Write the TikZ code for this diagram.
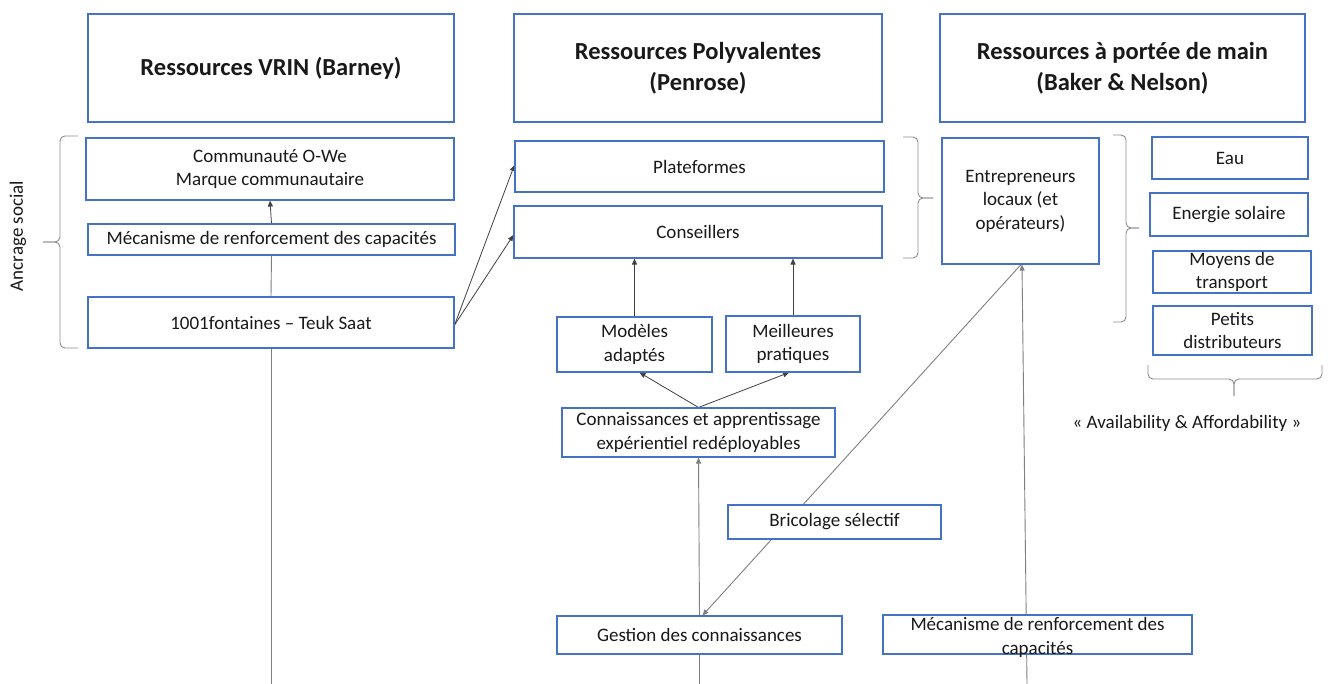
\documentclass[tikz,border=0pt]{standalone}
\usepackage{fontspec}
\setmainfont{Carlito}
\usetikzlibrary{arrows.meta}
\pgfdeclarelayer{bg}
\pgfsetlayers{bg,main}
\definecolor{boxblue}{HTML}{4472C4}
\definecolor{linegray}{HTML}{404040}
\definecolor{longgray}{HTML}{7F7F7F}
\definecolor{bracegray}{HTML}{8C8C8C}
\begin{document}
\begin{tikzpicture}[x=1pt,y=-1pt,
  box/.style={draw=boxblue, line width=1.1pt, fill=white, inner sep=0pt, align=center,
              font=\fontsize{19}{23.5}\selectfont, text=black!90},
  head/.style={box, font=\fontsize{24.5}{31}\selectfont\bfseries},
  conn/.style={draw=linegray, line width=0.8pt, -{Triangle[length=6pt,width=5pt]}},
  longconn/.style={draw=longgray, line width=0.9pt, -{Triangle[length=6pt,width=5pt]}},
  plain/.style={draw=longgray, line width=0.9pt},
  brc/.style={draw=bracegray, line width=0.9pt, rounded corners=5pt}]
\useasboundingbox (0,0) rectangle (1330,684);
\begin{pgfonlayer}{bg}
\fill[white] (0,0) rectangle (1330,684);
\end{pgfonlayer}

% headers
\node[head, minimum width=366pt, minimum height=108pt] (H1) at (271,68) {Ressources VRIN (Barney)};
\node[head, minimum width=368pt, minimum height=108pt] (H2) at (698,68) {Ressources Polyvalentes\\(Penrose)};
\node[head, minimum width=365pt, minimum height=108pt] (H3) at (1122.5,68) {Ressources à portée de main\\(Baker \& Nelson)};

% left column
\node[box, minimum width=368pt, minimum height=62pt] (Comm) at (270,169) {Communauté O-We\\Marque communautaire};
\node[box, minimum width=367pt, minimum height=31pt] (MecL) at (271.5,239.5) {Mécanisme de renforcement des capacités};
\node[box, minimum width=366pt, minimum height=51pt] (F1001) at (271,322.5) {1001fontaines – Teuk Saat};
\node[rotate=90, font=\fontsize{19}{23.5}\selectfont, text=black!90] (anc) at (18,236) {Ancrage social};

% middle column
\node[box, minimum width=369pt, minimum height=51pt] (Plat) at (699.5,166.5) {Plateformes};
\node[box, minimum width=368pt, minimum height=52pt] (Cons) at (698,232) {Conseillers};
\node[box, minimum width=155pt, minimum height=55pt] (Mod) at (634.5,344.5) {Modèles\\adaptés};
\node[box, minimum width=134pt, minimum height=56pt] (Meil) at (793,344) {Meilleures\\pratiques};
\node[box, minimum width=273pt, minimum height=49pt] (Conn) at (698.5,432.5) {Connaissances et apprentissage\\expérientiel redéployables};
\node[box, minimum width=213pt, minimum height=34pt] (Bric) at (834.5,522) {Bricolage sélectif};
\node[box, minimum width=285pt, minimum height=38pt] (Gest) at (699.5,635) {Gestion des connaissances};
\node[box, minimum width=309pt, minimum height=39pt] (MecR) at (1037.5,634.5)
  {\parbox[c][39pt][c]{305pt}{\vspace*{6pt}\centering Mécanisme de renforcement des\\capacités}};

% right column
\node[box, minimum width=157pt, minimum height=126pt] (Entr) at (1020.5,201) {Entrepreneurs\\locaux (et\\opérateurs)};
\node[box, minimum width=156pt, minimum height=42pt] (Eau) at (1230,158) {Eau};
\node[box, minimum width=158pt, minimum height=43pt] (Ener) at (1229,214.5) {Energie solaire};
\node[box, minimum width=158pt, minimum height=42pt] (Moy) at (1232,272) {Moyens de\\transport};
\node[box, minimum width=159pt, minimum height=49pt] (Pet) at (1232.5,330.5) {Petits\\distributeurs};
\node[font=\fontsize{19}{23.5}\selectfont, text=black!90] (avail) at (1187,423) {« Availability \& Affordability »};

% free ends at the bottom edge
\coordinate (bot1) at (271,684);
\coordinate (bot2) at (699.5,684);
\coordinate (bot3) at (1027,684);

% braces
\draw[brc] (78,136) -- (60,136) -- (60,242) -- (43,242);
\draw[brc] (78,348) -- (60,348) -- (60,242) -- (43,242);
\draw[brc] (903,137) -- (918,137) -- (918,198) -- (933,198);
\draw[brc] (903,258) -- (918,258) -- (918,198) -- (933,198);
\draw[brc] (1113,135) -- (1126,135) -- (1126,228) -- (1139,228);
\draw[brc] (1113,322) -- (1126,322) -- (1126,228) -- (1139,228);
\draw[brc] (1148,365) -- (1148,379) -- (1234,379) -- (1234,396);
\draw[brc] (1322,365) -- (1322,379) -- (1234,379) -- (1234,396);

% connectors
\begin{pgfonlayer}{bg}
\draw[plain] (F1001.north) -- (MecL.south);
\draw[conn] (MecL.north) -- (Comm.south);
\draw[conn] ([yshift=-2.5pt]F1001.east) -- ([yshift=1.5pt]Plat.west);
\draw[conn] ([yshift=-2.5pt]F1001.east) -- ([yshift=-3pt]Cons.west);
\draw[conn] (Mod.north) -- (Mod.north |- Cons.south);
\draw[conn] (Meil.north) -- (Meil.north |- Cons.south);
\draw[conn] (Conn.north) -- ([xshift=5pt]Mod.south);
\draw[conn] (Conn.north) -- ([xshift=-4pt]Meil.south);
\draw[longconn] (Gest.north) -- (Conn.south);
\draw[longconn] ([xshift=0.5pt]Entr.south) -- ([xshift=3pt]Gest.north);
\draw[longconn] (bot3) -- ([xshift=1.5pt]Entr.south);
\draw[plain] (Gest.south) -- (bot2);
\draw[plain] (F1001.south) -- (bot1);
\end{pgfonlayer}
\end{tikzpicture}
\end{document}
